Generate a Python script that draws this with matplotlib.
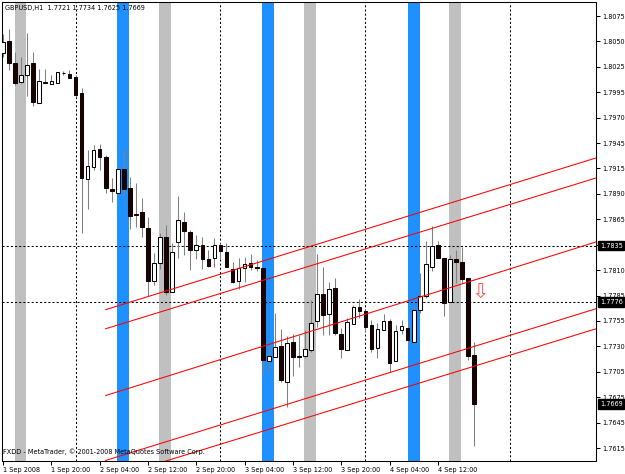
import matplotlib
matplotlib.use("Agg")
import matplotlib.pyplot as plt
import matplotlib.transforms as mtransforms
import numpy as np

# --- GBPUSD H1 bars (1 Sep 2008 12:00 .. 4 Sep 2008 18:00) ---
opens = [1.8037, 1.8050, 1.8026, 1.8007, 1.8014, 1.8026, 1.7985, 1.8007, 1.8004, 1.8005,
         1.8016, 1.8015, 1.8012, 1.7995, 1.7905, 1.7917, 1.7936, 1.7928, 1.7894, 1.7890,
         1.7915, 1.7896, 1.7868, 1.7870, 1.7854, 1.7798, 1.7817, 1.7844, 1.7787, 1.7839,
         1.7860, 1.7849, 1.7831, 1.7836, 1.7821, 1.7822, 1.7836, 1.7828, 1.7811, 1.7798,
         1.7812, 1.7817, 1.7813, 1.7812, 1.7714, 1.7718, 1.7730, 1.7692, 1.7734, 1.7719,
         1.7719, 1.7726, 1.7756, 1.7784, 1.7763, 1.7791, 1.7742, 1.7726, 1.7753, 1.7771,
         1.7767, 1.7752, 1.7728, 1.7747, 1.7756, 1.7714, 1.7747, 1.7749, 1.7734, 1.7768,
         1.7782, 1.7813, 1.7836, 1.7822, 1.7776, 1.7821, 1.7818, 1.7801, 1.7721]
highs = [1.8057, 1.8062, 1.8038, 1.8033, 1.8058, 1.8038, 1.8020, 1.8020, 1.8014, 1.8017,
         1.8018, 1.8019, 1.8014, 1.8000, 1.7935, 1.7941, 1.7942, 1.7930, 1.7906, 1.7917,
         1.7936, 1.7907, 1.7901, 1.7885, 1.7865, 1.7827, 1.7848, 1.7857, 1.7838, 1.7887,
         1.7870, 1.7851, 1.7846, 1.7844, 1.7831, 1.7843, 1.7838, 1.7838, 1.7818, 1.7822,
         1.7823, 1.7826, 1.7820, 1.7812, 1.7733, 1.7765, 1.7748, 1.7740, 1.7743, 1.7741,
         1.7747, 1.7778, 1.7826, 1.7813, 1.7797, 1.7801, 1.7749, 1.7759, 1.7773, 1.7779,
         1.7769, 1.7757, 1.7754, 1.7763, 1.7758, 1.7752, 1.7757, 1.7755, 1.7773, 1.7806,
         1.7840, 1.7856, 1.7840, 1.7822, 1.7825, 1.7831, 1.7834, 1.7801, 1.7734]
lows = [1.8033, 1.8019, 1.8003, 1.8005, 1.7992, 1.7981, 1.7985, 1.8005, 1.8004, 1.8005,
        1.8014, 1.8011, 1.7991, 1.7848, 1.7873, 1.7914, 1.7914, 1.7890, 1.7881, 1.7890,
        1.7890, 1.7852, 1.7855, 1.7844, 1.7782, 1.7794, 1.7811, 1.7783, 1.7787, 1.7822,
        1.7825, 1.7810, 1.7821, 1.7811, 1.7813, 1.7813, 1.7821, 1.7813, 1.7796, 1.7790,
        1.7797, 1.7810, 1.7808, 1.7701, 1.7703, 1.7718, 1.7692, 1.7666, 1.7698, 1.7708,
        1.7717, 1.7724, 1.7750, 1.7741, 1.7741, 1.7741, 1.7717, 1.7726, 1.7753, 1.7759,
        1.7745, 1.7724, 1.7717, 1.7747, 1.7703, 1.7714, 1.7743, 1.7731, 1.7734, 1.7764,
        1.7780, 1.7808, 1.7822, 1.7761, 1.7776, 1.7796, 1.7796, 1.7715, 1.7625]
closes = [1.8049, 1.8026, 1.8006, 1.8014, 1.8024, 1.7986, 1.8008, 1.8005, 1.8008, 1.8017,
          1.8016, 1.8011, 1.7993, 1.7906, 1.7919, 1.7935, 1.7928, 1.7896, 1.7892, 1.7915,
          1.7894, 1.7866, 1.7867, 1.7855, 1.7798, 1.7817, 1.7844, 1.7787, 1.7828, 1.7862,
          1.7850, 1.7831, 1.7836, 1.7821, 1.7814, 1.7836, 1.7829, 1.7813, 1.7797, 1.7812,
          1.7816, 1.7813, 1.7812, 1.7715, 1.7719, 1.7729, 1.7694, 1.7733, 1.7718, 1.7718,
          1.7727, 1.7754, 1.7784, 1.7762, 1.7790, 1.7744, 1.7727, 1.7755, 1.7771, 1.7767,
          1.7750, 1.7727, 1.7748, 1.7756, 1.7712, 1.7746, 1.7751, 1.7736, 1.7768, 1.7782,
          1.7816, 1.7835, 1.7822, 1.7775, 1.7821, 1.7818, 1.7800, 1.7719, 1.7669]

# time axis labels (every 8 bars)
time_labels = ['1 Sep 2008', '1 Sep 20:00', '2 Sep 04:00', '2 Sep 12:00', '2 Sep 20:00',
               '3 Sep 04:00', '3 Sep 12:00', '3 Sep 20:00', '4 Sep 04:00', '4 Sep 12:00']
# price scale labels as MetaTrader prints them ('' = hidden under the 1.7835 box)
price_labels = ['1.8075', '1.8050', '1.8025', '1.7995', '1.7970', '1.7945', '1.7915',
                '1.7890', '1.7865', '', '1.7810', '1.7785', '1.7755', '1.7730',
                '1.7705', '1.7675', '1.7645', '1.7615']

# day separators (bar index of midnight)
day_separators = [12, 36, 60, 84]
# session rectangles (start bar, width in bars)
blue_sessions = [18.9, 42.9, 67.0]
gray_sessions = [1.9, 25.9, 49.9, 73.9]
# horizontal lines with price labels
hlines = [1.7835, 1.7776]
price_boxes = [1.7835, 1.7776, 1.7669]
# parallel channel lines: start/end bar and prices
channel_bars = [17, 98.2]
channel_start = [1.7768, 1.7748, 1.7678, 1.7610, 1.7590]
channel_end = [1.7927, 1.7906, 1.7839, 1.7769, 1.7748]
# sell arrow
arrow_bar, arrow_price = 79, 1.77865

small = 4.7

fig = plt.figure(figsize=(6.25, 4.74), dpi=100)
ax = fig.add_axes([2 / 625, 13 / 474, 594 / 625, 459 / 474])
ax.set_xlim(-0.17, 98.18)
ax.set_ylim(1.76094, 1.80904)

# --- session bands ---
for s in blue_sessions:
    ax.axvspan(s, s + 2.0, color='#1e90ff', lw=0, zorder=1)
for s in gray_sessions:
    ax.axvspan(s, s + 1.95, color='#c0c0c0', lw=0, zorder=1)

# --- separators & horizontal lines ---
for d in day_separators:
    ax.axvline(d, color='black', lw=0.75, ls=(0, (2, 2)), zorder=1.5)
for h in hlines:
    ax.axhline(h, color='black', lw=0.75, ls=(0, (2, 2)), zorder=1.5)

# --- candles ---
o = np.array(opens)
c = np.array(closes)
x = np.arange(len(o))
ax.vlines(x, lows, highs, color='#808080', lw=0.75, zorder=2)
up = c >= o
ax.bar(x[up], (c - o)[up], bottom=o[up], width=0.6, color='white',
       edgecolor='black', linewidth=0.75, zorder=3)
ax.bar(x[~up], (o - c)[~up], bottom=c[~up], width=0.6, color='#140404',
       edgecolor='#140404', linewidth=0.75, zorder=3)

# --- channel lines ---
for p0, p1 in zip(channel_start, channel_end):
    ax.plot(channel_bars, [p0, p1], color='red', lw=0.75, zorder=4)

# --- sell arrow ---
ax.text(arrow_bar, arrow_price, '\u21e9', color='#ff5a5a', fontsize=15,
        ha='center', va='center', zorder=5)

# --- axes styling ---
for sp in ax.spines.values():
    sp.set_linewidth(0.75)
ax.yaxis.tick_right()
ax.set_yticks(np.linspace(1.80757, 1.76230, len(price_labels)))
ax.set_yticklabels(price_labels)
ax.set_xticks(np.arange(0, 8 * len(time_labels), 8))
ax.set_xticklabels(time_labels)
for lab in ax.get_xticklabels():
    lab.set_ha('left')
ax.tick_params(axis='both', length=3, width=0.75, labelsize=small, pad=1.5)

# price boxes on the scale
trans = mtransforms.blended_transform_factory(ax.transAxes, ax.transData)
for p in price_boxes:
    ax.text(1.0068, p, f'{p:.4f}', transform=trans, color='white', fontsize=small,
            ha='left', va='center', clip_on=False, zorder=10,
            bbox=dict(boxstyle='square,pad=0.25', fc='black', ec='black'))

# header and footer
ax.text(0.005, 0.987, 'GBPUSD,H1  1.7721 1.7734 1.7625 1.7669', transform=ax.transAxes,
        fontsize=small, ha='left', va='center', zorder=10)
ax.text(0.002, 0.02, 'FXDD - MetaTrader, \u00a9 2001-2008 MetaQuotes Software Corp.',
        transform=ax.transAxes, fontsize=small, ha='left', va='center', zorder=10)

fig.savefig('out.png', dpi=100)
